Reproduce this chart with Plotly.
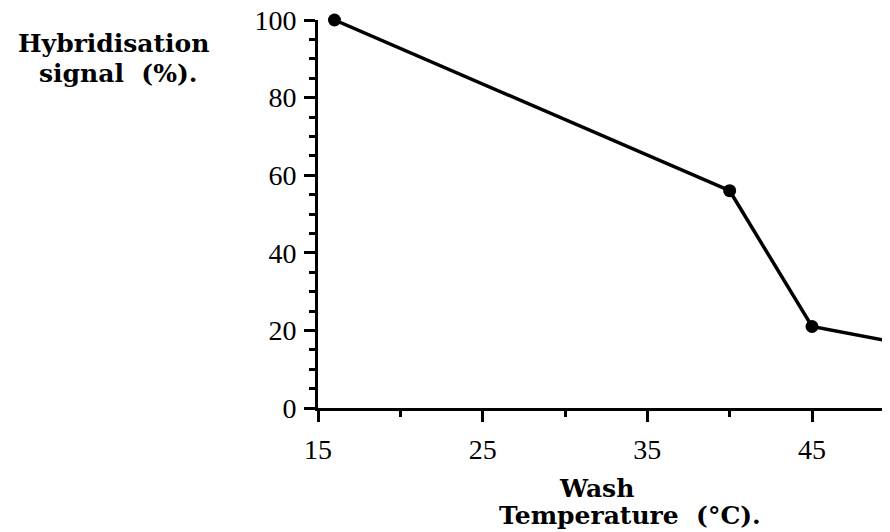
import plotly.graph_objects as go

wash_temp = [16, 40, 45, 50]
signal = [100, 56, 21, 17]
x_ticks = [15, 25, 35, 45]
y_ticks = [0, 20, 40, 60, 80, 100]

# plot area in page pixels (body has an 8px margin)
OFF = 8
W, H = 890, 532
L, R, T, B = 318, 890, 20, 408
PW, PH = R - L, B - T
X15, X45 = 318, 812  # page x of ticks 15 and 45


def px(x):
    return (x - L) / PW


def py(y):
    return (B - y) / PH


fig = go.Figure()
fig.add_trace(go.Scatter(
    x=wash_temp, y=signal, mode="lines+markers",
    line=dict(color="black", width=3.5),
    marker=dict(color="black", size=13),
    cliponaxis=False, showlegend=False,
))

tick_font = dict(family="Liberation Serif", size=28, color="black")
title_font = dict(family="DejaVu Serif", size=25, color="black")

axis_common = dict(
    showgrid=False, zeroline=False, showline=True, linecolor="black", linewidth=3,
    ticks="outside", ticklen=11, tickwidth=3, tickcolor="black",
    tickfont=tick_font, ticklabeloverflow="allow", automargin=False,
)

fig.update_layout(
    width=W, height=H,
    margin=dict(l=L - OFF, r=W + OFF - R, t=T - OFF, b=H + OFF - B),
    paper_bgcolor="white", plot_bgcolor="white",
    xaxis=dict(
        range=[15, 15 + 30 * PW / (X45 - X15)], tickvals=x_ticks,
        ticktext=[str(v) for v in x_ticks],
        minor=dict(dtick=5, tick0=15, ticks="outside", ticklen=6, tickwidth=3,
                   tickcolor="black", showgrid=False),
        ticklabelstandoff=3,
        **axis_common,
    ),
    yaxis=dict(
        range=[0, 100], tickvals=y_ticks, ticktext=[str(v) for v in y_ticks],
        minor=dict(dtick=5, tick0=0, ticks="outside", ticklen=6, tickwidth=3,
                   tickcolor="black", showgrid=False),
        ticklabelstandoff=2,
        **axis_common,
    ),
    annotations=[
        dict(text="<b>Hybridisation</b>", xref="paper", yref="paper",
             x=px(113), y=py(43), xanchor="center", yanchor="middle",
             showarrow=False, font=title_font),
        dict(text="<b>signal  (%).</b>", xref="paper", yref="paper",
             x=px(118), y=py(74), xanchor="center", yanchor="middle",
             showarrow=False, font=title_font),
        dict(text="<b>Wash</b>", xref="paper", yref="paper",
             x=px(596), y=py(489), xanchor="center", yanchor="middle",
             showarrow=False, font=title_font),
        dict(text="<b>Temperature  (°C).</b>", xref="paper", yref="paper",
             x=px(630), y=py(516), xanchor="center", yanchor="middle",
             showarrow=False, font=title_font),
    ],
)
fig.write_html("out.html")
